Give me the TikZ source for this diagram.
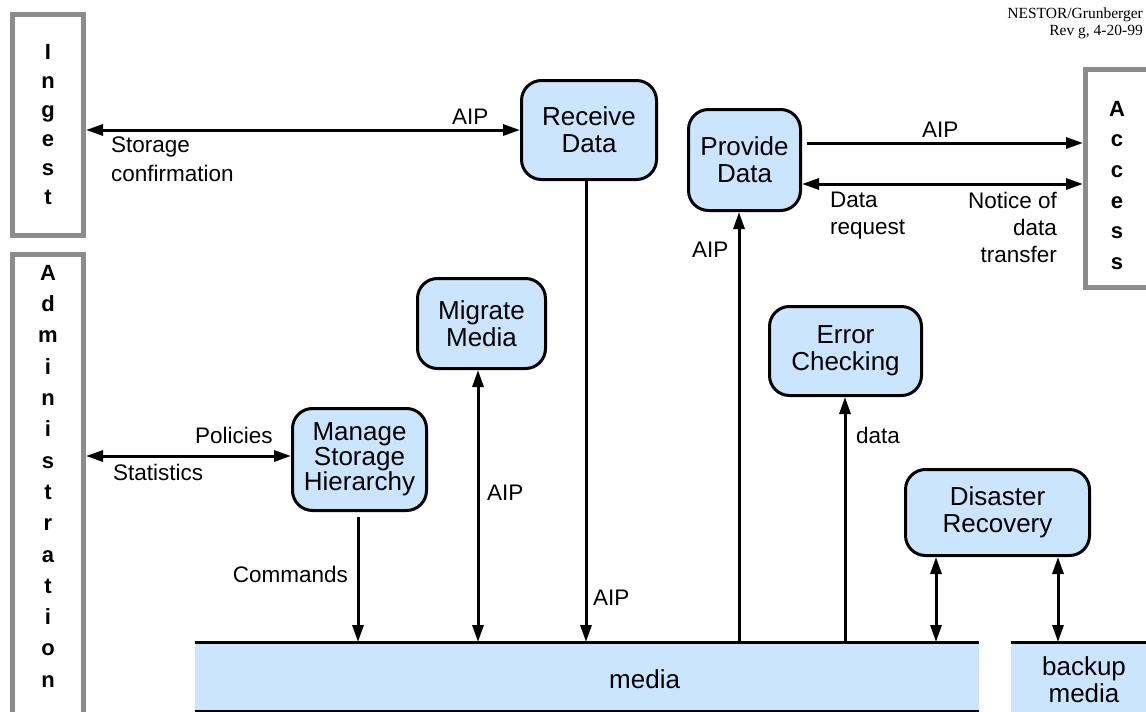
\documentclass[tikz,border=0pt]{standalone}
\usepackage{fontspec}
\setmainfont{Liberation Sans}
\newfontfamily\timesf{Liberation Serif}
\usetikzlibrary{arrows.meta}
\definecolor{boxblue}{RGB}{204,229,255}
\definecolor{framegray}{RGB}{140,140,140}
\begin{document}
\begin{tikzpicture}[x=1pt,y=-1pt,
  proc/.style={draw=black, line width=3pt, fill=boxblue, rounded corners=20pt, align=center,
    font=\fontsize{26}{27}\selectfont, inner sep=0pt},
  ext/.style={draw=framegray, line width=5pt, inner sep=0pt},
  lbl/.style={font=\fontsize{22.5}{27}\selectfont, inner sep=0pt},
  vert/.style={font=\bfseries\fontsize{22}{29}\selectfont, align=center, inner sep=0pt},
  bar/.style={fill=boxblue, draw=none, inner sep=0pt, outer sep=0pt},
  wire/.style={line width=3pt},
  conn/.style={line width=3pt, -{Triangle[length=17pt,width=11pt]}},
  conn2/.style={line width=3pt, {Triangle[length=17pt,width=11pt]}-{Triangle[length=17pt,width=11pt]}}
]
\useasboundingbox (0,0) rectangle (1146,712);
\clip (0,0) rectangle (1146,712);

% outer entities
\node[ext, minimum width=71pt, minimum height=221pt] (ingest) at (48,125) {};
\node[ext, minimum width=71pt, minimum height=483pt] (admin) at (48,496) {};
\node[ext, minimum width=72pt, minimum height=218pt] (access) at (1121.5,178.5) {};
\node[vert, anchor=center] (ingestt) at (48,125) {I\\n\\g\\e\\s\\t};
\node[vert, anchor=north, font=\bfseries\fontsize{22}{31.3}\selectfont] (admint) at (48,265)
  {A\\d\\m\\i\\n\\i\\s\\t\\r\\a\\t\\i\\o\\n};
\node[vert, anchor=north, font=\bfseries\fontsize{22}{30.6}\selectfont] (accesst) at (1117,101)
  {A\\c\\c\\e\\s\\s};

% processes
\node[proc, minimum width=135pt, minimum height=99pt] (receive) at (589,130) {Receive\\Data};
\node[proc, minimum width=112pt, minimum height=101pt] (provide) at (744.5,160) {Provide\\Data};
\node[proc, minimum width=128pt, minimum height=90pt] (migrate) at (481.5,323.5) {Migrate\\Media};
\node[proc, minimum width=134pt, minimum height=102pt, font=\fontsize{26}{25}\selectfont] (manage) at (359.5,459.5) {Manage\\Storage\\Hierarchy};
\node[proc, minimum width=152pt, minimum height=89pt] (error) at (845.5,351) {Error\\Checking};
\node[proc, minimum width=184pt, minimum height=86pt] (disaster) at (997.5,512.5) {Disaster\\Recovery};

% media bars
\node[bar, minimum width=784pt, minimum height=69pt] (media) at (587,676.5) {};
\draw[wire] (media.north west) -- (media.north east);
\draw[wire] (media.south west) -- (media.south east);
\node[lbl, anchor=base west, font=\fontsize{26}{27}\selectfont] (mediat) at (609,688) {media};
\node[bar, minimum width=150pt, minimum height=90pt] (backup) at (1086,687) {};
\draw[wire] (backup.north west) -- (backup.north east);
\node[lbl, anchor=north, align=center, font=\fontsize{26}{27}\selectfont] (backupt) at (1084,656) {backup\\media};

% header
\node[anchor=north east, align=right, inner sep=0pt, font=\timesf\fontsize{15.5}{17}\selectfont] (hdr) at (1143,7.5)
  {NESTOR/Grunberger\\Rev g, 4-20-99};

% helper coordinates
\coordinate (yaip) at (0,143);
\coordinate (yreq) at (0,184);
\coordinate (yadm) at (0,456);
\coordinate (xprov) at (739,0);
\coordinate (xrecv) at (586,0);
\coordinate (xmig) at (478,0);
\coordinate (xman) at (358,0);
\coordinate (xerr) at (845,0);
\coordinate (xdis) at (936,0);
\coordinate (xbak) at (1058,0);

% connectors
\draw[conn2] (ingest.east |- receive.west) -- (receive.west);
\draw[conn, shorten <=5pt] (provide.east |- yaip) -- (access.west |- yaip);
\draw[conn2] (provide.east |- yreq) -- (access.west |- yreq);
\draw[conn] (xprov |- media.north) -- (xprov |- provide.south);
\draw[conn] (xrecv |- receive.south) -- (xrecv |- media.north);
\draw[conn2] (xmig |- migrate.south) -- (xmig |- media.north);
\draw[conn, shorten <=5pt] (xman |- manage.south) -- (xman |- media.north);
\draw[conn2] (admin.east |- yadm) -- (manage.west |- yadm);
\draw[conn] (xerr |- media.north) -- (xerr |- error.south);
\draw[conn2] (xdis |- disaster.south) -- (xdis |- media.north);
\draw[conn2] (xbak |- disaster.south) -- (xbak |- backup.north);

% labels
\node[lbl, anchor=base west] (l1) at (452,124) {AIP};
\node[lbl, anchor=north west, align=left, font=\fontsize{22.5}{28.4}\selectfont] (l2) at (111,137) {Storage\\confirmation};
\node[lbl, anchor=base west] (l3) at (922,137) {AIP};
\node[lbl, anchor=north west, align=left] (l4) at (830,192) {Data\\request};
\node[lbl, anchor=north east, align=right] (l5) at (1057,192) {Notice of\\data\\transfer};
\node[lbl, anchor=base west] (l6) at (692,257) {AIP};
\node[lbl, anchor=base west] (l7) at (195,443) {Policies};
\node[lbl, anchor=base west] (l8) at (113,480) {Statistics};
\node[lbl, anchor=base east] (l9) at (348,582) {Commands};
\node[lbl, anchor=base west] (l10) at (487,500) {AIP};
\node[lbl, anchor=base west] (l11) at (593,605) {AIP};
\node[lbl, anchor=base west] (l12) at (856,443) {data};
\end{tikzpicture}
\end{document}
